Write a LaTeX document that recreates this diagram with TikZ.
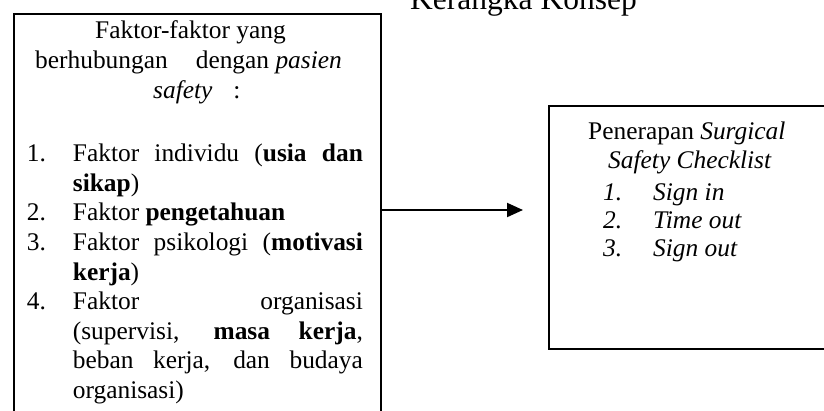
\documentclass[tikz,border=0pt]{standalone}
\usepackage{fontspec}
\setmainfont{Liberation Serif}
\usetikzlibrary{arrows.meta}
\begin{document}
\begin{tikzpicture}[x=1pt,y=-1pt,
  txt/.style={anchor=base west, inner sep=0pt, font=\fontsize{25.4}{29.6}\selectfont},
  ttl/.style={anchor=base west, inner sep=0pt, font=\fontsize{31.5}{36}\selectfont},
  frame/.style={draw, line width=2pt, rectangle, inner sep=0pt, anchor=north west},
  conn/.style={line width=2pt, -{Triangle[length=16pt,width=14pt]}},
]
\useasboundingbox (0,0) rectangle (824,410);
\clip (0,0) rectangle (824,410);

% title
\node[ttl] (title) at (410,9) {Kerangka Konsep};

% boxes
\node[frame, minimum width=367pt, minimum height=420pt] (lb) at (13,13) {};
\node[frame, minimum width=320pt, minimum height=243.5pt] (rb) at (547.5,104.7) {};

% left box heading
\node[txt] (h1) at (95,38) {Faktor-faktor yang};
\node[txt] (h2) at (35,68) {berhubungan\hspace*{28pt}dengan \textit{pasien}};
\node[txt] (h3) at (153,98) {\textit{safety}\hspace*{21pt}:};

% left box list
\node[txt] (n1) at (26.7,161.7) {1.};
\node[txt] (l1) at (72.7,161.7) {\makebox[290pt][s]{Faktor individu (\textbf{usia dan}}};
\node[txt] (l2) at (72.7,191.3) {\textbf{sikap})};
\node[txt] (n2) at (26.7,220.9) {2.};
\node[txt] (l3) at (72.7,220.9) {Faktor \textbf{pengetahuan}};
\node[txt] (n3) at (26.7,250.5) {3.};
\node[txt] (l4) at (72.7,250.5) {\makebox[290pt][s]{Faktor psikologi (\textbf{motivasi}}};
\node[txt] (l5) at (72.7,280.1) {\textbf{kerja})};
\node[txt] (n4) at (26.7,309.7) {4.};
\node[txt] (l6) at (72.7,309.7) {\makebox[290pt][s]{Faktor organisasi}};
\node[txt] (l7) at (72.7,339.3) {\makebox[290pt][s]{(supervisi, \textbf{masa kerja},}};
\node[txt] (l8) at (72.7,368.9) {\makebox[290pt][s]{beban kerja, dan budaya}};
\node[txt] (l9) at (72.7,398.5) {organisasi)};

% right box text
\node[txt] (r1) at (588,139.3) {Penerapan \textit{Surgical}};
\node[txt] (r2) at (608,168.3) {\textit{Safety Checklist}};
\node[txt] (m1) at (603,200) {\textit{1.}};
\node[txt] (s1) at (653,200) {\textit{Sign in}};
\node[txt] (m2) at (603,228.3) {\textit{2.}};
\node[txt] (s2) at (653,228.3) {\textit{Time out}};
\node[txt] (m3) at (603,256.7) {\textit{3.}};
\node[txt] (s3) at (653,256.7) {\textit{Sign out}};

% connector
\coordinate (astart) at (lb.north east |- 0,210);
\coordinate (aend) at (523,210);
\draw[conn] (astart) -- (aend);
\end{tikzpicture}
\end{document}
